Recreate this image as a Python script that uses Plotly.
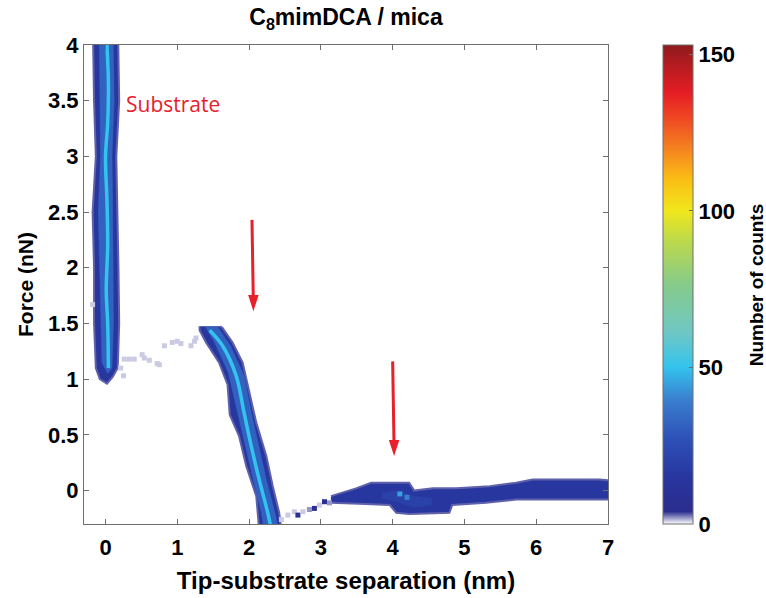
import plotly.graph_objects as go
from plotly.colors import sample_colorscale

# ---------------- data ----------------
x_range = [-0.3, 7]
y_range = [-0.3, 4]
x_ticks = [0, 1, 2, 3, 4, 5, 6, 7]
y_ticks = [0, 0.5, 1, 1.5, 2, 2.5, 3, 3.5, 4]
y_tick_labels = ["0", "0.5", "1", "1.5", "2", "2.5", "3", "3.5", "4"]
cbar_ticks = [0, 50, 100, 150]
count_max = 153

# counts used for the dense regions of each band
edge_count = 3
body_count = 15
inner_count = 32
core_count = 50

# substrate band (outline, inner region, ridge)
substrate_x = [-0.18, -0.16, -0.135, -0.18, -0.16, -0.16, -0.135, -0.08, 0.02,
               0.10, 0.17, 0.19, 0.18, 0.17, 0.15, 0.19, 0.17, 0.17]
substrate_y = [4.3, 3.5, 3.0, 2.5, 2.0, 1.5, 1.1, 1.0, 0.96,
               1.02, 1.1, 1.5, 2.0, 2.5, 3.0, 3.5, 4.0, 4.3]
substrate_in_x = [-0.09, -0.08, -0.07, -0.10, -0.08, -0.07, -0.05, 0.03,
                  0.09, 0.11, 0.11, 0.10, 0.09, 0.12, 0.10]
substrate_in_y = [4.3, 3.5, 3.0, 2.5, 2.0, 1.5, 1.15, 1.05,
                  1.1, 1.5, 2.0, 2.5, 3.0, 3.5, 4.3]
substrate_core_x = [0.0, 0.02, 0.04, 0.03, 0.0, 0.02, 0.03, 0.01, 0.03, 0.04]
substrate_core_y = [4.3, 4.0, 3.65, 3.3, 3.0, 2.6, 2.2, 1.8, 1.5, 1.1]

# compression branch of the first layer
branch_x = [1.31, 1.31, 1.40, 1.58, 1.70, 1.72, 1.73, 1.86, 1.96, 2.10, 2.14,
            2.45, 2.42, 2.33, 2.24, 2.10, 2.00, 1.91, 1.77, 1.63, 1.60]
branch_y = [1.475, 1.44, 1.33, 1.15, 0.95, 0.80, 0.68, 0.49, 0.22, -0.05, -0.35,
            -0.35, -0.20, 0.04, 0.31, 0.61, 0.91, 1.15, 1.33, 1.46, 1.475]
branch_in_x = [1.39, 1.52, 1.71, 1.83, 1.94, 2.05, 2.17, 2.21,
               2.41, 2.36, 2.24, 2.13, 2.03, 1.93, 1.74, 1.56]
branch_in_y = [1.47, 1.33, 1.06, 0.72, 0.42, 0.12, -0.20, -0.35,
               -0.35, -0.20, 0.10, 0.40, 0.70, 1.03, 1.30, 1.47]
branch_core_x = [1.45, 1.63, 1.82, 1.93, 2.03, 2.14, 2.26, 2.31]
branch_core_y = [1.44, 1.30, 1.03, 0.70, 0.40, 0.10, -0.20, -0.35]

# far band (3 - 7 nm)
far_x = [3.14, 3.30, 3.49, 3.70, 4.23, 4.30, 4.56, 4.89, 5.35, 5.72, 5.95, 6.88, 7.05,
         7.05, 5.72, 5.30, 4.83, 4.79, 4.23, 4.05, 3.96, 3.63, 3.14]
far_y = [-0.05, -0.02, 0.02, 0.07, 0.07, 0.0, 0.02, 0.02, 0.04, 0.07, 0.10, 0.10, 0.09,
         -0.08, -0.08, -0.11, -0.13, -0.20, -0.21, -0.20, -0.13, -0.12, -0.11]
far_in_x = [3.85, 4.05, 4.30, 4.55, 4.55, 4.30, 4.05, 3.85]
far_in_y = [-0.02, 0.0, -0.05, -0.07, -0.13, -0.15, -0.10, -0.07]

# sparse isolated bins
sparse_x = [0.21, 0.25, 0.26, 0.33, 0.40, 0.51, 0.54, 0.61, 0.72, 0.75, 0.82, 0.93,
            1.00, 1.05, 1.19, 1.24, 1.26, -0.18,
            2.45, 2.54, 2.63, 2.68, 2.75, 2.84, 2.91, 2.98, 3.05, 3.12,
            4.10, 4.20]
sparse_y = [1.10, 1.03, 1.18, 1.18, 1.18, 1.22, 1.19, 1.17, 1.14, 1.13, 1.30, 1.33,
            1.34, 1.32, 1.30, 1.34, 1.37, 1.67,
            -0.26, -0.22, -0.19, -0.22, -0.19, -0.17, -0.16, -0.13, -0.10, -0.11,
            -0.03, -0.06]
sparse_counts = [1, 1, 1, 1, 1, 1, 1, 1, 1, 1, 1, 1,
                 1, 1, 1, 1, 1, 1,
                 1, 1, 1, 6, 1, 2, 6, 1, 6, 2,
                 45, 40]

# red arrows marking the layer positions (tail -> head)
arrow_tail_x = [2.04, 4.00]
arrow_tail_y = [2.43, 1.16]
arrow_head_x = [2.06, 4.02]
arrow_head_y = [1.61, 0.31]

# ---------------- styling ----------------
colorscale = [
    [0.0, "#ffffff"], [0.026, "#2b2d8e"], [0.10, "#2836a0"], [0.18, "#2d52b8"],
    [0.26, "#3a7fcf"], [0.327, "#33c3ee"], [0.40, "#6fc7c4"], [0.50, "#86cb8b"],
    [0.59, "#bcd94c"], [0.654, "#f1e71c"], [0.72, "#fbbd15"], [0.785, "#f58120"],
    [0.85, "#ef4523"], [0.90, "#e61d25"], [1.0, "#8f1a1c"],
]
arrow_color = "#e8202a"


def ccol(v):
    return sample_colorscale(colorscale, [v / count_max])[0]


bold = dict(family="Liberation Sans", weight="bold", color="black")

fig = go.Figure()


def band(xs, ys, count, halo=0):
    fig.add_trace(go.Scatter(
        x=xs, y=ys, mode="lines", fill="toself", fillcolor=ccol(count),
        line=dict(color=ccol(edge_count) if halo else ccol(count), width=halo if halo else 0.5),
        hoverinfo="skip", showlegend=False))


def core(xs, ys, count, width):
    fig.add_trace(go.Scatter(
        x=xs, y=ys, mode="lines", line=dict(color=ccol(count), width=width, shape="spline"),
        hoverinfo="skip", showlegend=False))


band(substrate_x, substrate_y, body_count, halo=2)
band(substrate_in_x, substrate_in_y, inner_count)
core(substrate_core_x, substrate_core_y, core_count, 3.5)

band(branch_x, branch_y, body_count, halo=2)
band(branch_in_x, branch_in_y, inner_count)
core(branch_core_x, branch_core_y, core_count, 3.5)

band(far_x, far_y, body_count, halo=2)
band(far_in_x, far_in_y, 20)

fig.add_trace(go.Scatter(
    x=sparse_x, y=sparse_y, mode="markers",
    marker=dict(symbol="square", size=5, color=sparse_counts, colorscale=colorscale,
                cmin=0, cmax=count_max, showscale=True,
                colorbar=dict(
                    x=1.105, xanchor="left", xpad=0, ypad=0, y=0.5, yanchor="middle",
                    len=1, lenmode="fraction", thickness=30,
                    outlinecolor="#6e6e6e", outlinewidth=1,
                    tickvals=cbar_ticks, ticks="inside", ticklen=4, tickcolor="#6e6e6e",
                    tickfont=dict(size=22, **bold),
                )),
    hoverinfo="skip", showlegend=False))

# arrows: shaft lines + arrow-head markers at the heads
for tx, ty, hx, hy in zip(arrow_tail_x, arrow_tail_y, arrow_head_x, arrow_head_y):
    fig.add_trace(go.Scatter(
        x=[tx, hx], y=[ty, hy + 0.06], mode="lines",
        line=dict(color=arrow_color, width=3), hoverinfo="skip", showlegend=False))
fig.add_trace(go.Scatter(
    x=arrow_head_x, y=arrow_head_y, mode="markers",
    marker=dict(symbol="arrow", angle=180, size=17, color=arrow_color,
                line=dict(width=0)),
    hoverinfo="skip", showlegend=False))

axis_common = dict(showline=True, mirror="ticks", linecolor="#6e6e6e", linewidth=1,
                   ticks="inside", ticklen=5, tickcolor="#6e6e6e", showgrid=False,
                   zeroline=False, automargin=False, tickfont=dict(size=22, **bold))

fig.update_layout(
    width=766, height=598,
    margin=dict(l=84, r=158, t=45, b=74, autoexpand=False),
    paper_bgcolor="white", plot_bgcolor="white",
    title=dict(text="C<sub>8</sub>mimDCA / mica", x=0.5, xref="paper",
               y=0.972, yref="container", yanchor="middle",
               font=dict(size=23, **bold)),
    xaxis=dict(range=x_range, tickvals=x_ticks, ticklabelstandoff=4, **axis_common,
               title=dict(text="Tip-substrate separation (nm)", standoff=12,
                          font=dict(size=24, **bold))),
    yaxis=dict(range=y_range, tickvals=y_ticks, ticktext=y_tick_labels, **axis_common,
               title=dict(text="Force (nN)", standoff=8, font=dict(size=21, **bold))),
    annotations=[
        dict(x=0.26, y=3.47, xref="x", yref="y", text="Substrate", showarrow=False,
             xanchor="left", yanchor="middle",
             font=dict(family="Open Sans", size=21, color="#e8202a")),
        dict(x=1.284, y=0.5, xref="paper", yref="paper", text="Number of counts",
             showarrow=False, textangle=-90, xanchor="center", yanchor="middle",
             font=dict(size=19, **bold)),
    ],
)

fig.write_html("out.html", config={"displayModeBar": False},
               post_script="document.body.style.margin='0';document.body.style.overflow='hidden';")
